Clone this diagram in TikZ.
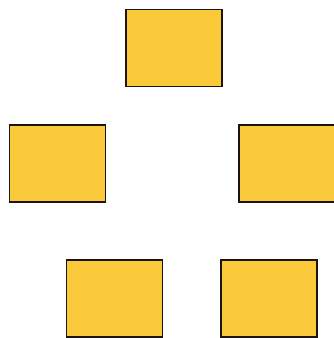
\documentclass[tikz,border=0pt]{standalone}
\usepackage{tikz}
\usetikzlibrary{positioning}

\definecolor{boxyellow}{RGB}{250,201,58}
\definecolor{boxedge}{RGB}{30,20,15}

\begin{document}
\begin{tikzpicture}[x=1pt,y=-1pt]
  % styles
  \tikzset{
    blk/.style={rectangle, fill=boxyellow, draw=boxedge, line width=1.6pt,
      minimum width=96pt, minimum height=77pt, inner sep=0pt}
  }

  % frame (334 x 338)
  \useasboundingbox (0,0) rectangle (334,338);

  % boxes
  \node[blk] (top)  at (174,48)    {}; % top
  \node[blk] (midl) at (57.5,163.5) {}; % middle-left
  \node[blk] (midr) at (287,163.5)  {}; % middle-right
  \node[blk] (botl) at (114.5,298.5) {}; % bottom-left
  \node[blk] (botr) at (269,298.5)  {}; % bottom-right
\end{tikzpicture}
\end{document}
